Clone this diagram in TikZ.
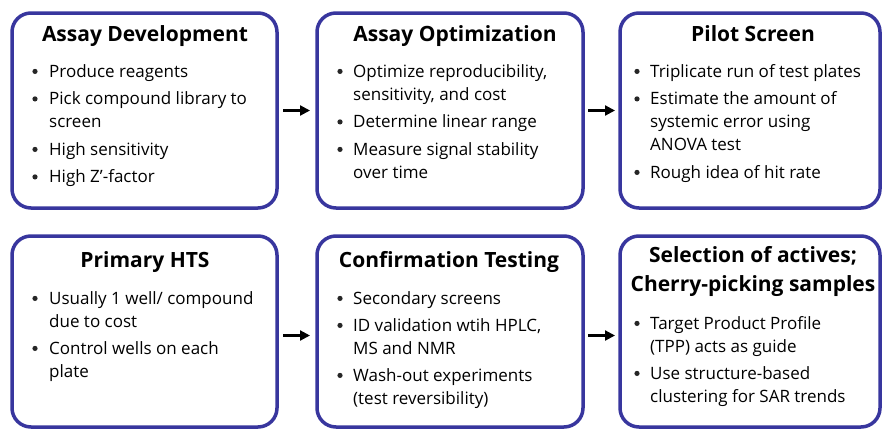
\documentclass[tikz,border=0pt]{standalone}
\usepackage{fontspec}
\setmainfont{Open Sans}
\usetikzlibrary{arrows.meta}
\definecolor{boxblue}{RGB}{56,54,158}
\tikzset{
  stagebox/.style={draw=boxblue, line width=3.5pt, rounded corners=19pt, fill=white,
    inner sep=0pt, outer sep=0pt, anchor=north west},
  ttl/.style={font=\fontsize{21}{24}\selectfont\bfseries, anchor=base, inner sep=0pt},
  itm/.style={font=\fontsize{17}{20}\selectfont, anchor=base west, inner sep=0pt},
  dot/.style={circle, fill=black!85, inner sep=0pt, minimum size=5.2pt},
  flow/.style={-{Triangle[length=10pt,width=10pt]}, line width=2.2pt, black}
}
% #1 name prefix, #2 bullet x, #3 text x, #4 list of baseline/text/bullet-flag
\newcommand\boxlines[4]{%
  \foreach \yy/\tx/\bb [count=\k] in {#4} {
    \node[itm] (#1-l\k) at (#3,\yy) {\tx};
    \ifnum\bb=1 \node[dot] (#1-b\k) at (#2,\yy-5.6) {};\fi
  }}
\begin{document}
\begin{tikzpicture}[x=1pt,y=-1pt]
\useasboundingbox (0,0) rectangle (883,431);

% stage boxes
\node[stagebox, minimum width=265pt, minimum height=195pt] (b1) at (12,13) {};
\node[stagebox, minimum width=266pt, minimum height=195pt] (b2) at (317,13) {};
\node[stagebox, minimum width=260pt, minimum height=195pt] (b3) at (620,13) {};
\node[stagebox, minimum width=265pt, minimum height=191pt] (b4) at (12,236) {};
\node[stagebox, minimum width=266pt, minimum height=191pt] (b5) at (317,236) {};
\node[stagebox, minimum width=260pt, minimum height=191pt] (b6) at (620,236) {};

% titles
\node[ttl] (t1) at (145,41) {Assay Development};
\node[ttl] (t2) at (455,41) {Assay Optimization};
\node[ttl] (t3) at (753,41) {Pilot Screen};
\node[ttl] (t4) at (145,267) {Primary HTS};
\node[ttl] (t5) at (449,267) {Confirmation Testing};
\node[ttl] (t6a) at (753,262) {Selection of actives;};
\node[ttl] (t6b) at (753,291) {Cherry-picking samples};

% bullet lists
\boxlines{s1}{35}{49}{77/Produce reagents/1, 104.5/Pick compound library to/1,
  127.5/screen/0, 155/High sensitivity/1, 182.5/High Z’-factor/1}
\boxlines{s2}{340}{353}{77/{Optimize reproducibility,}/1, 100/{sensitivity, and cost}/0,
  127.5/Determine linear range/1, 155/Measure signal stability/1, 178/over time/0}
\boxlines{s3}{637}{650}{77/Triplicate run of test plates/1, 104.5/Estimate the amount of/1,
  127.5/systemic error using/0, 150.5/ANOVA test/0, 178/Rough idea of hit rate/1}
\boxlines{s4}{35}{49}{304/{Usually 1 well/ compound}/1, 327/due to cost/0,
  354/Control wells on each/1, 377/plate/0}
\boxlines{s5}{340}{353}{304/Secondary screens/1, 331/{ID validation wtih HPLC,}/1,
  354/MS and NMR/0, 381/Wash-out experiments/1, 404/(test reversibility)/0}
\boxlines{s6}{637}{650}{329/Target Product Profile/1, 352/(TPP) acts as guide/0,
  379/Use structure-based/1, 402/clustering for SAR trends/0}

% flow arrows
\draw[flow] ([xshift=6pt]b1.east) -- ([xshift=-7pt]b2.west);
\draw[flow] ([xshift=5pt]b2.east) -- ([xshift=-5pt]b3.west);
\draw[flow] ([xshift=6pt,yshift=-4pt]b4.east) -- ([xshift=-7pt,yshift=-4pt]b5.west);
\draw[flow] ([xshift=5pt,yshift=-4pt]b5.east) -- ([xshift=-5pt,yshift=-4pt]b6.west);
\end{tikzpicture}
\end{document}
